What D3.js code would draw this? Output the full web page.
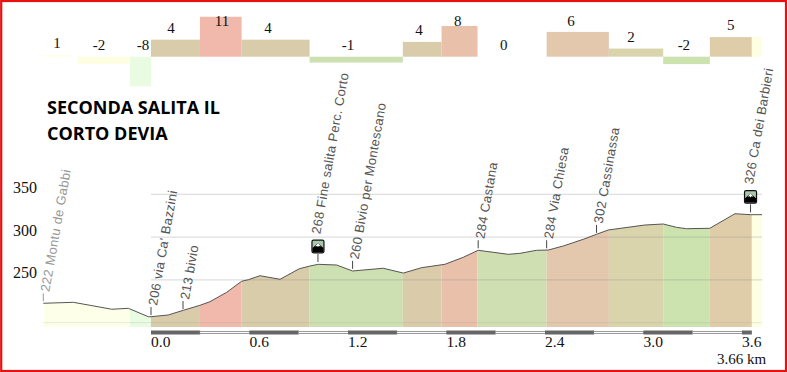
<!DOCTYPE html>
<html><head><meta charset="utf-8">
<script src="https://cdn.jsdelivr.net/npm/d3@7"></script>
<style>html,body{margin:0;padding:0;background:#fff}svg{display:block}</style>
</head><body><svg id="c" width="787" height="372"></svg>
<script>
// elevation profile (km, m)
const profileKm = [-0.656,-0.473,-0.371,-0.239,-0.138,-0.016,0,0.105,0.197,0.298,0.359,0.461,0.552,0.593,0.664,0.786,0.903,0.968,1.019,1.131,1.228,1.415,1.537,1.649,1.79,1.902,1.993,2.176,2.247,2.349,2.42,2.511,2.633,2.714,2.785,3.008,3.12,3.201,3.262,3.404,3.557,3.652,3.722];
const profileM = [222.7,223.8,220.3,215.7,216.8,207,207,209,214.5,220.3,224.5,235.5,248.4,250.2,254.9,250.7,263,266.2,268.2,267.4,260.4,263.6,258,264.3,268.2,276.4,284.6,279.9,281,284.6,284.9,289.6,297.4,303.3,308.3,314.1,315.3,311.4,309.8,310.3,327.3,326.2,326.2];
// gradient segments under the profile
const segStart = [-0.656,-0.128,0,0.298,0.552,0.966,1.534,1.77,1.989,2.41,2.789,3.12,3.404,3.66];
const segEnd = [-0.128,0,0.298,0.552,0.966,1.534,1.77,1.989,2.41,2.789,3.12,3.404,3.66,3.722];
const segColor = ["#feffe8","#e9fbe0","#d9ccaa","#f0b9ac","#d9ccaa","#cde0b2","#dacbaa","#e9c0aa","#d0dfb1","#e3c8ae","#d9d4ac","#cce2af","#dfcdaa","#fefee2"];
// gradient bars along the top
const barGrade = [0.5,-2,-8,4.6,10.8,4.6,-1.6,4,8.3,0,6.7,2.2,-2,5.3,5.3];
const barStart = [-0.656,-0.45,-0.128,0,0.298,0.552,0.966,1.534,1.77,1.989,2.41,2.789,3.12,3.404,3.66];
const barEnd = [-0.48,-0.128,0,0.298,0.552,0.966,1.534,1.77,1.989,2.41,2.789,3.12,3.404,3.66,3.722];
const barColor = ["#feffe8","#feffe2","#e9fbe0","#d9ccaa","#f0b9ac","#d9ccaa","#cde0b2","#dacbaa","#e9c0aa","#ffffff","#e3c8ae","#d9d4ac","#cce2af","#dfcdaa","#fefee2"];
const barLabel = ["1","-2","-8","4","11","4","-1","4","8","0","6","2","-2","5"];
const barLabelKm = [-0.572,-0.317,-0.049,0.122,0.432,0.713,1.2,1.632,1.869,2.149,2.558,2.924,3.246,3.532];
const yTicks = [350,300,250];
const gridLines = [350,300,250,200];
const xTicks = [0,0.6,1.2,1.8,2.4,3.0,3.6];
const waypointKm = [-0.656,0,0.195,1.017,1.228,1.993,2.41,2.714,3.652];
const waypointM = [222,206,213,268,260,284,284,302,326];
const waypointName = ["Montu de Gabbi","via Ca' Bazzini","bivio","Fine salita Perc. Corto","Bivio per Montescano","Castana","Via Chiesa","Cassinassa","Ca dei Barbieri"];
const summits = [3,8];
const titleLines = ["SECONDA SALITA IL","CORTO DEVIA"];

const svg = d3.select("#c");
const x = d3.scaleLinear().domain([0,3.6]).range([151,742]);
const y = d3.scaleLinear().domain([200,350]).range([322.7,194.3]);
const bar = d3.scaleLinear().domain([0,10]).range([56.7,19.7]);
const bottom = 327;
const serif = "'Liberation Serif',serif", sans = "'Liberation Sans',sans-serif";

svg.append("rect").attr("width",787).attr("height",372).attr("fill","#fff");

// top bars
svg.append("g").selectAll("rect").data(barGrade).join("rect")
 .attr("x",(d,i)=>x(barStart[i])).attr("width",(d,i)=>x(barEnd[i])-x(barStart[i]))
 .attr("y",d=>Math.min(bar(d),bar(0))).attr("height",d=>Math.abs(bar(d)-bar(0)))
 .attr("fill",(d,i)=>barColor[i]);
svg.append("g").selectAll("text").data(barLabel).join("text")
 .attr("x",(d,i)=>x(barLabelKm[i]))
 .attr("y",(d,i)=>{const g=barGrade[i];return +d>0?Math.max(bar(g)-7,26):50;})
 .attr("text-anchor","middle").attr("font-family",serif).attr("font-size",15).attr("fill","#111").text(d=>d);

// area per segment
const line = d3.line().x((d,i)=>x(profileKm[i])).y((d,i)=>y(profileM[i]));
const area = d3.area().x((d,i)=>x(profileKm[i])).y0(bottom).y1((d,i)=>y(profileM[i]));
svg.append("defs").append("clipPath").attr("id","under").append("path").attr("d",area(profileKm));
svg.append("g").attr("clip-path","url(#under)").selectAll("rect").data(segStart).join("rect")
 .attr("x",d=>x(d)).attr("width",(d,i)=>x(segEnd[i])-x(d)).attr("y",190).attr("height",bottom-190)
 .attr("fill",(d,i)=>segColor[i]);

// grid
svg.append("g").selectAll("line").data(gridLines).join("line")
 .attr("x1",d=>d===200?x(-0.656):x(0)).attr("x2",x(3.722)).attr("y1",d=>y(d)).attr("y2",d=>y(d))
 .attr("stroke","#8c8c8c").attr("stroke-opacity",d=>d===200?.18:.35).attr("stroke-width",1);

// profile
svg.append("path").attr("d",line(profileKm)).attr("fill","none").attr("stroke","#555").attr("stroke-width",1);

// y labels
svg.append("g").selectAll("text").data(yTicks).join("text")
 .attr("x",37).attr("y",d=>y(d)-1.5).attr("text-anchor","end").attr("font-family",serif).attr("font-size",16).attr("fill","#111").text(d=>d);

// distance scale bar
const segLen = d3.range(0,3.66,0.3);
svg.append("g").selectAll("rect").data(segLen).join("rect")
 .attr("x",d=>x(d)).attr("width",d=>x(Math.min(d+0.3,3.66))-x(d))
 .attr("y",(d,i)=>i%2?331.5:330.5).attr("height",(d,i)=>i%2?2:4)
 .attr("fill",(d,i)=>i%2?"#fff":"#666").attr("stroke",(d,i)=>i%2?"#999":"none").attr("stroke-width",1);
svg.append("g").selectAll("text").data(xTicks).join("text")
 .attr("x",d=>x(d)).attr("y",347.2).attr("font-family",serif).attr("font-size",15.5).attr("fill","#111").text(d=>d.toFixed(1));
svg.append("text").attr("x",717).attr("y",363.8).attr("font-family",serif).attr("font-size",15).attr("fill","#111").text("3.66 km");

// waypoints
const wp = svg.append("g").selectAll("g").data(waypointKm).join("g");
wp.append("line").attr("x1",d=>x(d)).attr("x2",d=>x(d))
 .attr("y1",(d,i)=>y(waypointM[i])-2.5).attr("y2",(d,i)=>y(waypointM[i])-10.5)
 .attr("stroke",(d,i)=>i===0?"#999":"#444");
wp.append("text")
 .attr("transform",(d,i)=>{const s=summits.includes(i);return `translate(${x(d)+(s?2.4:6)},${y(waypointM[i])-(s?30:11.5)}) rotate(-80)`;})
 .attr("font-family",sans).attr("font-size",13).attr("letter-spacing",.35)
 .attr("fill",(d,i)=>i===0?"#999":"#555").text((d,i)=>waypointM[i]+" "+waypointName[i]);

// summit icons
const ic = svg.append("g").selectAll("g").data(summits).join("g")
 .attr("transform",d=>`translate(${x(waypointKm[d])},${y(waypointM[d])-18})`);
ic.append("rect").attr("x",-6).attr("y",-6.3).attr("width",12).attr("height",12.6).attr("rx",1.5).attr("fill","#a6c8ab").attr("stroke","#111").attr("stroke-width",1.2);
ic.append("path").attr("d","M-5.5 5.7 L-5.5 1.5 L-1 -2.5 L0 -3.5 L1.5 -2 L5.5 1.5 L5.5 5.7Z").attr("fill","#000");
ic.append("path").attr("d","M-2.8 0 L0 -3.5 L2.8 0 L0.8 -0.6 L0 0.6 L-0.8 -0.6Z").attr("fill","#fff");

// title
svg.append("g").selectAll("text").data(titleLines).join("text")
 .attr("x",47).attr("y",(d,i)=>114.3+i*25.7).attr("font-family","'Open Sans',sans-serif").attr("font-weight",700).attr("font-size",18).attr("fill","#000").text(d=>d);

// frame
svg.append("rect").attr("x",1.2).attr("y",1).attr("width",784.8).attr("height",370).attr("fill","none").attr("stroke","#e81010").attr("stroke-width",2.2);
</script></body></html>
